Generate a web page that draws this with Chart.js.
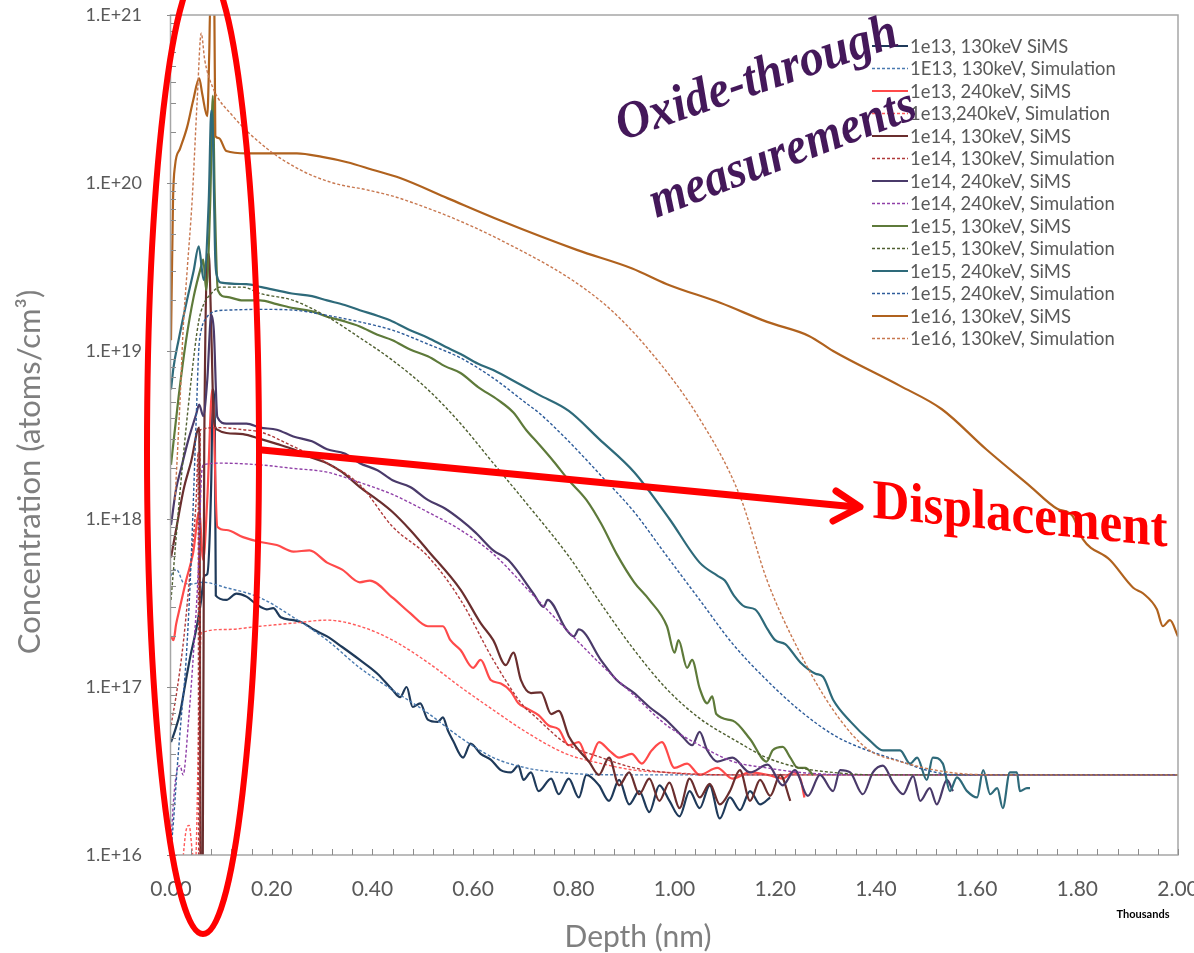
<!DOCTYPE html>
<html>
<head>
<meta charset="utf-8">
<script src="https://cdn.jsdelivr.net/npm/chart.js@4.4.1/dist/chart.umd.min.js"></script>
<style>
  html, body { margin: 0; padding: 0; background: #fff; }
  #wrap { width: 1194px; height: 953px; position: relative; }
</style>
</head>
<body>
<div id="wrap"><canvas id="grafico"></canvas></div>
<script>
// depth in nm, concentration in atoms/cm3
const depth13_130_sims = [0, 8, 18, 28, 38, 50, 60, 66, 72, 80, 83, 87, 89, 110, 130, 150, 170, 190, 203, 218, 243, 263, 283, 310, 340, 375, 410, 440, 455, 468, 480, 495, 510, 530, 540, 550, 560, 580, 595, 615, 635, 655, 675, 690, 700, 715, 730, 755, 770, 790, 810, 825, 850, 870, 890, 910, 930, 950, 970, 990, 1010, 1030, 1050, 1070, 1090, 1110, 1130, 1150, 1170, 1190];
const conc13_130_sims = [4.7e16, 5.5e16, 7.0e16, 1.03e17, 1.5e17, 2.2e17, 3.3e17, 4.6e17, 4.7e17, 1.7e18, 5.9e18, 3.9e18, 3.5e17, 3.3e17, 3.6e17, 3.45e17, 3.1e17, 2.9e17, 2.95e17, 2.6e17, 2.5e17, 2.4e17, 2.2e17, 2.0e17, 1.73e17, 1.45e17, 1.2e17, 9.6e16, 8.7e16, 1.0e17, 7.6e16, 8.0e16, 6.4e16, 6.2e16, 6.6e16, 5.5e16, 4.8e16, 3.8e16, 4.6e16, 4.0e16, 3.7e16, 3.2e16, 3.1e16, 3.4e16, 2.8e16, 3.1e16, 2.4e16, 2.85e16, 2.3e16, 2.85e16, 2.2e16, 3.0e16, 2.6e16, 2.1e16, 2.8e16, 2.0e16, 2.4e16, 1.8e16, 2.6e16, 2.1e16, 1.7e16, 2.4e16, 1.9e16, 2.6e16, 1.65e16, 2.2e16, 1.85e16, 2.4e16, 2.0e16, 2.2e16];

const depth13_130_sim = [0, 8, 14, 24, 40, 64, 110, 177, 243, 310, 375, 440, 510, 575, 640, 705, 730, 800, 900, 2000];
const conc13_130_sim = [4.6e17, 5.0e17, 4.9e17, 4.2e17, 4.1e17, 4.2e17, 3.9e17, 3.4e17, 2.6e17, 1.9e17, 1.3e17, 9.6e16, 7.0e16, 5.0e16, 3.8e16, 3.3e16, 3.2e16, 3.05e16, 3.0e16, 3.0e16];

const depth13_240_sims = [0, 5, 10, 18, 30, 44, 56, 64, 72, 82, 92, 110, 143, 177, 210, 243, 275, 310, 340, 375, 395, 440, 475, 510, 540, 555, 575, 600, 615, 635, 655, 675, 690, 705, 730, 750, 770, 790, 810, 830, 850, 870, 890, 915, 935, 955, 975, 1000, 1025, 1050, 1085, 1115, 1150, 1185, 1215, 1235, 1250, 1258];
const conc13_240_sims = [2.0e17, 1.9e17, 2.35e17, 3.0e17, 4.3e17, 6.3e17, 1.1e18, 5.7e17, 1.3e18, 5.9e18, 9.0e17, 8.6e17, 7.8e17, 7.3e17, 7.0e17, 6.4e17, 6.5e17, 5.5e17, 5.0e17, 4.2e17, 4.3e17, 3.4e17, 2.75e17, 2.3e17, 2.3e17, 1.9e17, 1.66e17, 1.3e17, 1.45e17, 1.1e17, 1.05e17, 9.4e16, 8.0e16, 7.5e16, 6.8e16, 5.9e16, 5.6e16, 4.5e16, 4.7e16, 3.6e16, 4.7e16, 4.2e16, 3.8e16, 4.0e16, 3.5e16, 4.2e16, 4.7e16, 3.3e16, 3.5e16, 3.0e16, 3.3e16, 2.85e16, 3.1e16, 3.0e16, 2.85e16, 3.1e16, 2.85e16, 2.2e16];

const depth13_240_sim = [20, 30, 36, 42, 48, 56, 60, 110, 177, 243, 310, 375, 440, 510, 575, 640, 705, 785, 855, 920, 985, 1100, 2000];
const conc13_240_sim = [7e15, 1.4e16, 1.5e16, 1.07e16, 8e15, 8.4e16, 2.1e17, 2.2e17, 2.3e17, 2.4e17, 2.5e17, 2.3e17, 1.9e17, 1.4e17, 1.0e17, 7.3e16, 5.4e16, 4.0e16, 3.5e16, 3.2e16, 3.1e16, 3.0e16, 3.0e16];

const depth14_130_sims = [0, 10, 25, 40, 56, 59, 63, 66, 75, 80, 85, 92, 110, 143, 177, 210, 243, 275, 310, 340, 375, 410, 440, 475, 510, 575, 615, 640, 665, 680, 695, 715, 735, 755, 770, 790, 810, 830, 850, 870, 890, 910, 930, 950, 970, 990, 1010, 1030, 1050, 1070, 1090, 1110, 1130, 1150, 1170, 1190, 1210, 1230];
const conc14_130_sims = [5.9e17, 8.6e17, 1.5e18, 2.2e18, 3.5e18, 8e15, 8e15, 2.6e18, 3.8e19, 1.33e19, 3.9e18, 3.4e18, 3.25e18, 3.2e18, 3.0e18, 2.8e18, 2.6e18, 2.35e18, 2.15e18, 1.9e18, 1.55e18, 1.3e18, 1.1e18, 8.6e17, 6.5e17, 3.8e17, 2.4e17, 1.9e17, 1.35e17, 1.6e17, 1.1e17, 9.2e16, 9.3e16, 6.9e16, 7.2e16, 5.1e16, 4.2e16, 3.6e16, 3.0e16, 3.8e16, 2.6e16, 3.1e16, 2.3e16, 2.85e16, 2.1e16, 2.7e16, 1.9e16, 2.85e16, 2.2e16, 2.65e16, 2.0e16, 2.4e16, 3.2e16, 2.1e16, 2.8e16, 2.25e16, 3.0e16, 2.1e16];

const depth14_130_sim = [0, 12, 25, 40, 50, 54, 55, 57, 58, 98, 143, 177, 243, 310, 375, 440, 510, 575, 640, 700, 720, 785, 855, 920, 985, 1100, 2000];
const conc14_130_sim = [5.9e16, 9.6e16, 1.9e17, 5.7e17, 1.3e18, 2.5e18, 8e15, 8e15, 3.4e18, 3.5e18, 3.4e18, 3.3e18, 2.7e18, 2.15e18, 1.6e18, 9e17, 6e17, 3.3e17, 1.45e17, 7.7e16, 6.8e16, 4.6e16, 3.8e16, 3.3e16, 3.1e16, 3.0e16, 3.0e16];

const depth14_240_sims = [0, 10, 20, 35, 50, 56, 64, 72, 80, 85, 92, 110, 150, 177, 210, 243, 280, 310, 345, 375, 410, 440, 475, 510, 545, 575, 605, 640, 670, 720, 740, 748, 785, 800, 810, 855, 885, 920, 950, 985, 1015, 1035, 1050, 1065, 1085, 1115, 1150, 1185, 1215, 1239, 1265, 1289, 1315, 1329, 1349, 1374, 1394, 1414, 1434, 1454, 1474, 1488, 1507, 1521, 1541, 1553];
const conc14_240_sims = [9.2e17, 1.5e18, 2.0e18, 3.0e18, 4.2e18, 4.8e18, 4.1e18, 6.7e18, 1.64e19, 1.33e19, 4.05e18, 3.7e18, 3.7e18, 3.5e18, 3.4e18, 3.1e18, 2.9e18, 2.6e18, 2.45e18, 2.15e18, 1.95e18, 1.7e18, 1.55e18, 1.3e18, 1.15e18, 9.9e17, 8.3e17, 6.5e17, 5.7e17, 3.6e17, 3.0e17, 3.3e17, 2.2e17, 2.0e17, 2.2e17, 1.43e17, 1.1e17, 9.2e16, 7.6e16, 6.3e16, 5.1e16, 4.5e16, 5.4e16, 4.2e16, 3.6e16, 3.8e16, 3.1e16, 3.45e16, 2.6e16, 3.2e16, 2.25e16, 3.0e16, 2.4e16, 3.2e16, 3.1e16, 2.3e16, 3.1e16, 3.4e16, 2.7e16, 2.3e16, 2.95e16, 2.1e16, 2.5e16, 2.0e16, 2.8e16, 2.4e16];

const depth14_240_sim = [0, 5, 12, 18, 24, 35, 45, 55, 60, 64, 100, 177, 243, 310, 375, 440, 510, 575, 640, 720, 785, 855, 920, 985, 1050, 1116, 1183, 1250, 1350, 2000];
const conc14_240_sim = [1.2e16, 2.1e16, 3.2e16, 3.4e16, 3.0e16, 6.4e16, 1.66e17, 5.7e17, 1.7e18, 2.1e18, 2.15e18, 2.1e18, 2.0e18, 1.9e18, 1.65e18, 1.4e18, 1.1e18, 8.6e17, 6.2e17, 3.5e17, 2.2e17, 1.35e17, 8.9e16, 5.9e16, 4.5e16, 3.6e16, 3.3e16, 3.1e16, 3.0e16, 3.0e16];

const depth15_130_sims = [0, 15, 30, 45, 60, 64, 70, 78, 83, 87, 93, 110, 143, 177, 210, 243, 280, 310, 345, 375, 410, 440, 475, 510, 545, 575, 610, 650, 680, 705, 730, 760, 790, 825, 855, 885, 920, 950, 985, 1000, 1008, 1025, 1035, 1050, 1065, 1075, 1083, 1116, 1150, 1183, 1195, 1215, 1230, 1245, 1260, 1275];
const conc15_130_sims = [2.1e18, 5.3e18, 1.16e19, 2.1e19, 3.2e19, 3.5e19, 2.3e19, 7.9e19, 3.3e20, 7.9e19, 2.3e19, 2.1e19, 2.0e19, 2.0e19, 1.9e19, 1.8e19, 1.72e19, 1.6e19, 1.5e19, 1.4e19, 1.25e19, 1.16e19, 1.02e19, 9.3e18, 8.1e18, 7.4e18, 6.1e18, 5.1e18, 4.3e18, 3.4e18, 2.8e18, 2.2e18, 1.7e18, 1.3e18, 9.3e17, 6.2e17, 4.2e17, 3.3e17, 2.3e17, 1.6e17, 1.9e17, 1.3e17, 1.45e17, 9.8e16, 8.0e16, 8.8e16, 6.9e16, 6.3e16, 4.9e16, 3.6e16, 4.2e16, 4.4e16, 3.8e16, 3.3e16, 3.3e16, 3.0e16];

const depth15_130_sim = [0, 20, 40, 55, 65, 80, 97, 143, 177, 243, 310, 375, 440, 510, 575, 640, 705, 790, 855, 920, 985, 1050, 1116, 1183, 1250, 1315, 1400, 2000];
const conc15_130_sim = [3.3e17, 1.7e18, 6.7e18, 1.5e19, 1.9e19, 2.2e19, 2.4e19, 2.4e19, 2.2e19, 2.0e19, 1.6e19, 1.2e19, 8.8e18, 5.9e18, 3.7e18, 2.15e18, 1.25e18, 6.0e17, 3.1e17, 1.66e17, 9.7e16, 6.5e16, 4.9e16, 3.8e16, 3.3e16, 3.1e16, 3.0e16, 3.0e16];

const depth15_240_sims = [0, 5, 15, 30, 45, 55, 65, 75, 80, 83, 88, 92, 100, 150, 180, 240, 280, 310, 345, 375, 410, 440, 475, 510, 545, 575, 610, 640, 690, 730, 790, 850, 920, 990, 1050, 1085, 1100, 1118, 1140, 1160, 1185, 1200, 1220, 1250, 1280, 1295, 1315, 1350, 1388, 1414, 1448, 1468, 1482, 1501, 1513, 1533, 1547, 1561, 1581, 1601, 1613, 1627, 1641, 1652, 1666, 1680, 1686, 1700, 1706];
const conc15_240_sims = [5.9e18, 8e18, 1.16e19, 1.9e19, 3.0e19, 4.2e19, 2.65e19, 7.9e19, 2.7e20, 2.07e20, 3.5e19, 2.75e19, 2.55e19, 2.5e19, 2.4e19, 2.2e19, 2.12e19, 2.0e19, 1.88e19, 1.75e19, 1.62e19, 1.5e19, 1.33e19, 1.2e19, 1.06e19, 9.6e18, 8.4e18, 7.7e18, 6.4e18, 5.5e18, 4.4e18, 3.0e18, 1.9e18, 1.0e18, 5.5e17, 4.6e17, 4.3e17, 3.5e17, 3.0e17, 2.9e17, 2.2e17, 1.9e17, 1.8e17, 1.4e17, 1.2e17, 1.15e17, 8.4e16, 6.2e16, 4.8e16, 4.2e16, 4.2e16, 3.5e16, 3.8e16, 2.8e16, 3.8e16, 3.5e16, 2.4e16, 2.9e16, 2.4e16, 2.2e16, 3.2e16, 2.3e16, 2.5e16, 1.9e16, 3.1e16, 3.1e16, 2.4e16, 2.5e16, 2.5e16];

const depth15_240_sim = [0, 5, 12, 20, 30, 40, 50, 55, 60, 70, 90, 110, 180, 245, 310, 375, 440, 510, 575, 640, 705, 730, 785, 855, 920, 985, 1050, 1116, 1183, 1250, 1315, 1350, 1383, 1450, 1500, 1560, 2000];
const conc15_240_sim = [1.07e16, 1.6e16, 3.2e16, 6.4e16, 1.45e17, 5.7e17, 3.9e18, 1.0e19, 1.33e19, 1.57e19, 1.73e19, 1.75e19, 1.77e19, 1.75e19, 1.63e19, 1.49e19, 1.33e19, 1.1e19, 9.1e18, 6.9e18, 4.9e18, 4.3e18, 3.0e18, 1.8e18, 1.1e18, 6.0e17, 3.3e17, 1.8e17, 1.1e17, 7.2e16, 5.2e16, 4.6e16, 4.2e16, 3.6e16, 3.2e16, 3.0e16, 3.0e16];

const depth16_130_sims = [0, 4, 8, 18, 32, 44, 56, 62, 72, 76, 78, 86, 88, 95, 110, 150, 250, 300, 350, 400, 455, 550, 653, 806, 916, 985, 1092, 1184, 1267, 1315, 1448, 1531, 1619, 1706, 1760, 1790, 1811, 1865, 1911, 1931, 1958, 1970, 1984, 2000];
const conc16_130_sims = [1.16e19, 7.9e19, 1.27e20, 1.6e20, 2.15e20, 3.1e20, 4.2e20, 3.4e20, 2.5e20, 6e20, 1.2e21, 1.2e21, 1.9e20, 1.85e20, 1.55e20, 1.5e20, 1.5e20, 1.43e20, 1.33e20, 1.2e20, 1.07e20, 8.1e19, 6.0e19, 4.0e19, 3.1e19, 2.5e19, 1.93e19, 1.49e19, 1.23e19, 1.0e19, 6.2e18, 4.5e18, 2.6e18, 1.57e18, 1.15e18, 1.05e18, 7.6e17, 5.7e17, 3.9e17, 3.6e17, 2.9e17, 2.3e17, 2.5e17, 2.0e17];

const depth16_130_sim = [8, 18, 24, 32, 42, 52, 60, 67, 83, 123, 191, 256, 322, 389, 455, 653, 852, 951, 1051, 1130, 1184, 1249, 1315, 1382, 1448, 1547, 1646, 2000];
const conc16_130_sim = [1.3e18, 5.1e18, 1.33e19, 3.0e19, 7.9e19, 3.1e20, 7.8e20, 5.4e20, 3.7e20, 2.5e20, 1.6e20, 1.2e20, 1.0e20, 9.1e19, 8.1e19, 4.6e19, 2.0e19, 1.0e19, 3.9e18, 1.37e18, 4.3e17, 1.6e17, 7.3e16, 4.3e16, 3.6e16, 3.1e16, 3.0e16, 3.0e16];

const seriesLabels = [
    '1e13, 130keV SiMS', '1E13, 130keV, Simulation',
    '1e13, 240keV, SiMS', '1e13,240keV, Simulation',
    '1e14, 130keV, SiMS', '1e14, 130keV, Simulation',
    '1e14, 240keV, SiMS', '1e14, 240keV, Simulation',
    '1e15, 130keV, SiMS', '1e15, 130keV, Simulation',
    '1e15, 240keV, SiMS', '1e15, 240keV, Simulation',
    '1e16, 130keV, SiMS', '1e16, 130keV, Simulation'
];
const seriesDepths = [depth13_130_sims, depth13_130_sim, depth13_240_sims, depth13_240_sim, depth14_130_sims, depth14_130_sim, depth14_240_sims, depth14_240_sim, depth15_130_sims, depth15_130_sim, depth15_240_sims, depth15_240_sim, depth16_130_sims, depth16_130_sim];
const seriesConcs = [conc13_130_sims, conc13_130_sim, conc13_240_sims, conc13_240_sim, conc14_130_sims, conc14_130_sim, conc14_240_sims, conc14_240_sim, conc15_130_sims, conc15_130_sim, conc15_240_sims, conc15_240_sim, conc16_130_sims, conc16_130_sim];
const seriesColors = ['#1f3a5a', '#4a7ab0', '#ff4a4a', '#ff5a5a', '#6a2e2e', '#b03a3a', '#4a3a6a', '#9040a8', '#5e7a3a', '#4f5f30', '#2e6a7a', '#2e5c9a', '#b0621e', '#c87850'];
const yTickPowers = [16, 17, 18, 19, 20, 21];

document.addEventListener("DOMContentLoaded", function () {

    function linha(ctx, x1, y1, x2, y2) {
        ctx.beginPath();
        ctx.moveTo(x1, y1);
        ctx.lineTo(x2, y2);
        ctx.stroke();
    }

    const extras = {
        id: 'extras',
        afterDatasetsDraw(chart) {
            const ctx = chart.ctx;
            const a = chart.chartArea;
            const xs = chart.scales.x;
            const ys = chart.scales.y;
            ctx.save();

            // moldura
            ctx.strokeStyle = '#a6a6a6';
            ctx.lineWidth = 1.5;
            ctx.strokeRect(a.left - 0.5, a.top, a.right - a.left + 0.5, a.bottom - a.top);

            // ticks para dentro
            ctx.strokeStyle = '#8c8c8c';
            ctx.lineWidth = 1;
            for (let v = 0; v <= 2000; v += 40) {
                const px = Math.round(xs.getPixelForValue(v)) + 0.5;
                linha(ctx, px, a.bottom, px, a.bottom - 6);
            }
            yTickPowers.forEach(function (p) {
                const py = Math.round(ys.getPixelForValue(Math.pow(10, p))) + 0.5;
                linha(ctx, a.left - 4, py, a.left + 6, py);
                if (p < 21) {
                    for (let m = 2; m < 10; m++) {
                        const q = Math.round(ys.getPixelForValue(m * Math.pow(10, p))) + 0.5;
                        linha(ctx, a.left, q, a.left + 5, q);
                    }
                }
            });

            // legenda
            ctx.textBaseline = 'middle';
            ctx.textAlign = 'left';
            ctx.font = '18.4px Lato';
            chart.data.datasets.forEach(function (ds, i) {
                const y = 46 + i * 22.5;
                ctx.strokeStyle = ds.borderColor;
                ctx.lineWidth = ds.borderWidth;
                ctx.setLineDash(ds.borderDash || []);
                linha(ctx, 872, y, 908, y);
                ctx.setLineDash([]);
                ctx.fillStyle = '#595959';
                ctx.fillText(ds.label, 910, y + 1);
            });

            // titulos dos eixos
            ctx.fillStyle = '#7f7f7f';
            ctx.textAlign = 'center';
            ctx.font = '26px Lato';
            let w = ctx.measureText('Depth (nm)').width;
            ctx.font = (26 * 147 / w).toFixed(1) + 'px Lato';
            ctx.fillText('Depth (nm)', 638, 937);

            ctx.save();
            ctx.translate(30, 472);
            ctx.rotate(-Math.PI / 2);
            ctx.font = '26px Lato';
            w = ctx.measureText('Concentration (atoms/cm³)').width;
            ctx.font = (26 * 365 / w).toFixed(1) + 'px Lato';
            ctx.fillText('Concentration (atoms/cm³)', 0, 0);
            ctx.restore();

            ctx.fillStyle = '#000';
            ctx.font = 'bold 11px Lato';
            ctx.fillText('Thousands', 1143, 914);

            // texto roxo
            ctx.fillStyle = '#44185a';
            [['Oxide-through', 757, 80, -19, 295], ['measurements', 783, 155, -21, 282]].forEach(function (t) {
                ctx.save();
                ctx.translate(t[1], t[2]);
                ctx.rotate(t[3] * Math.PI / 180);
                ctx.font = 'italic bold 52px "Liberation Serif"';
                const tw = ctx.measureText(t[0]).width;
                ctx.scale(t[4] / tw, 1);
                ctx.textBaseline = 'middle';
                ctx.fillText(t[0], 0, 0);
                ctx.restore();
            });

            // elipse e seta
            ctx.strokeStyle = '#ff0000';
            ctx.lineWidth = 6;
            ctx.beginPath();
            ctx.ellipse(203, 451, 56, 483, 0, 0, Math.PI * 2);
            ctx.stroke();

            ctx.lineWidth = 7;
            ctx.lineCap = 'round';
            ctx.lineJoin = 'round';
            linha(ctx, 262, 450, 856, 507);
            ctx.beginPath();
            ctx.moveTo(836, 491);
            ctx.lineTo(860, 507);
            ctx.lineTo(833, 521);
            ctx.stroke();

            // texto vermelho, inclinado sem rodar as letras
            ctx.save();
            ctx.translate(1020, 532);
            ctx.transform(1, Math.tan(5.6 * Math.PI / 180), 0, 1, 0, 0);
            ctx.fillStyle = '#ff0000';
            ctx.font = 'bold 56px "Liberation Serif"';
            ctx.textBaseline = 'alphabetic';
            const dw = ctx.measureText('Displacement').width;
            ctx.scale(295 / dw, 1);
            ctx.fillText('Displacement', 0, 0);
            ctx.restore();

            ctx.restore();
        }
    };

    const datasets = seriesLabels.map(function (label, i) {
        const dashed = i % 2 === 1;
        return {
            label: label,
            data: seriesDepths[i].map(function (d, k) { return { x: d, y: seriesConcs[i][k] }; }),
            borderColor: seriesColors[i],
            backgroundColor: seriesColors[i],
            borderWidth: dashed ? 1.4 : 2.2,
            borderDash: dashed ? [3, 2] : [],
            pointRadius: 0,
            fill: false,
            cubicInterpolationMode: 'monotone',
            order: seriesLabels.length - i
        };
    });

    const ctx = document.getElementById('grafico').getContext('2d');
    new Chart(ctx, {
        type: 'line',
        data: { datasets: datasets },
        options: {
            responsive: true,
            maintainAspectRatio: false,
            animation: false,
            devicePixelRatio: 1,
            layout: { padding: { left: 0, right: 16, top: 15, bottom: 0 } },
            plugins: { legend: { display: false }, tooltip: { enabled: false } },
            scales: {
                x: {
                    type: 'linear',
                    min: 0,
                    max: 2000,
                    grid: { display: false },
                    border: { display: false },
                    ticks: {
                        stepSize: 200,
                        autoSkip: false,
                        maxRotation: 0,
                        color: '#595959',
                        font: { family: 'Lato', size: 21 },
                        padding: 14,
                        callback: function (v) { return (v / 1000).toFixed(2); }
                    },
                    afterFit: function (s) { s.height = 98; s.paddingLeft = 0; s.paddingRight = 0; }
                },
                y: {
                    type: 'logarithmic',
                    min: 1e16,
                    max: 1e21,
                    grid: { display: false },
                    border: { display: false },
                    ticks: {
                        color: '#595959',
                        font: { family: 'Lato', size: 18 },
                        padding: 21,
                        callback: function (v) { return '1.E+' + Math.round(Math.log10(v)); }
                    },
                    afterBuildTicks: function (s) {
                        s.ticks = yTickPowers.map(function (p) { return { value: Math.pow(10, p) }; });
                    },
                    afterFit: function (s) { s.width = 171; s.paddingTop = 0; s.paddingBottom = 0; }
                }
            }
        },
        plugins: [extras]
    });
});
</script>
</body>
</html>
